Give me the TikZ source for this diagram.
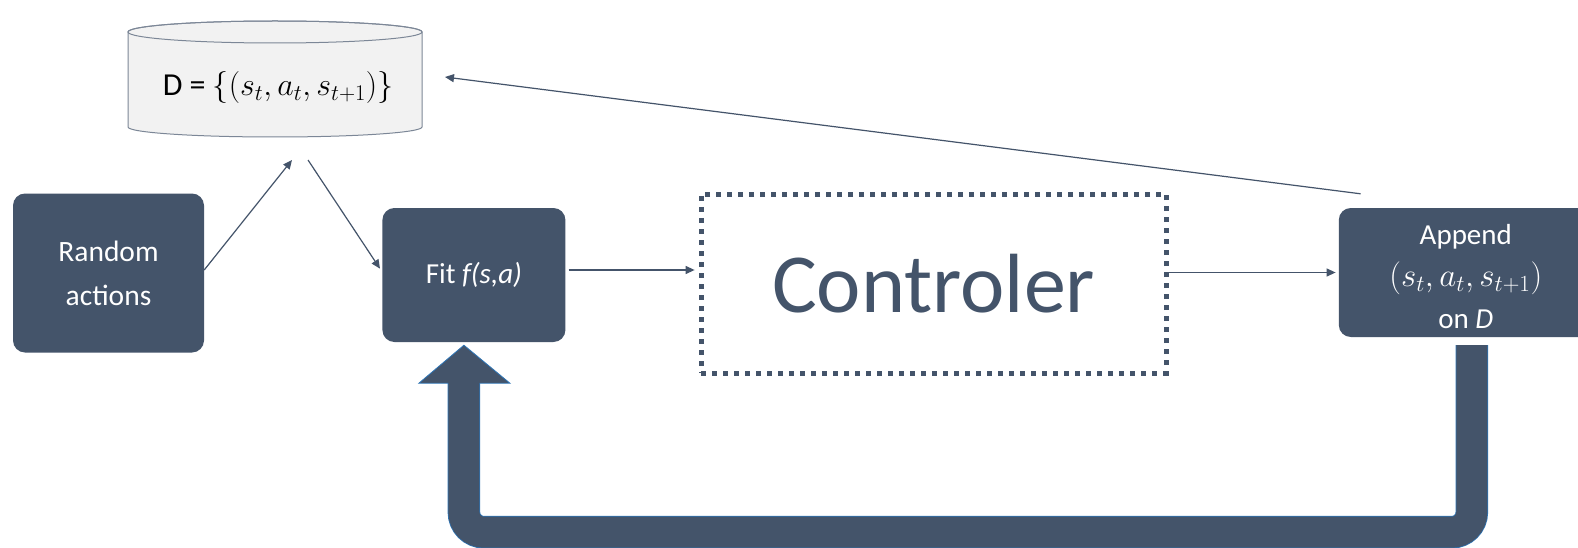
\documentclass[tikz,border=0pt]{standalone}
\usepackage{fix-cm}
\usepackage{fontspec}
\setmainfont{Carlito}
\usetikzlibrary{positioning,arrows.meta}

\definecolor{slate}{HTML}{44546A}
\definecolor{edgeblue}{HTML}{2E75B6}
\definecolor{drum}{HTML}{F2F2F2}

\begin{document}
\begin{tikzpicture}[x=1pt,y=-1pt,
    every node/.style={inner sep=0pt},
    darkbox/.style={fill=slate,rounded corners=12pt,text=white,align=center},
    flow/.style={draw=slate,line width=1.2pt,-{Triangle[length=9pt,width=8pt]}},
    bigloop/.style={draw=slate,line width=31pt,rounded corners=20pt},
    bigedge/.style={draw=edgeblue,line width=32.5pt,rounded corners=20pt}]

\useasboundingbox[fill=white] (0,0) rectangle (1578,548);

% Data set drum
\path[fill=drum,draw=slate!70,line width=1pt]
    (128,32) -- (128,127) arc[start angle=180,end angle=360,x radius=147pt,y radius=10pt]
    -- (422,32) arc[start angle=0,end angle=180,x radius=147pt,y radius=11pt] -- cycle;
\draw[slate!70,line width=1pt] (275,32) ellipse[x radius=147pt,y radius=11pt];
\node[font=\fontsize{32}{32}\selectfont] (data) at (278,88)
    {D = $\{(s_t, a_t, s_{t+1})\}$};
\coordinate (dbin) at (292,160);
\coordinate (dbout) at (308,160);
\coordinate (dbback) at (445,77);

% Boxes
\node[  darkbox,
        minimum width=191pt, minimum height=159pt,
        font=\fontsize{29.5}{44}\selectfont
    ] (random) at (108.5,273) {Random\\actions};
\node[  darkbox,
        minimum width=183pt, minimum height=134pt,
        font=\fontsize{29}{29}\selectfont,
        right=178pt of random, yshift=-2pt
    ] (fit) {Fit \textit{f(s,a)}};
\node[  draw=slate, line width=5pt,
        dash pattern=on 5pt off 6pt,
        minimum width=465pt, minimum height=179pt,
        text=slate, font=\fontsize{84}{84}\selectfont,
        right=133pt of fit, yshift=-8.5pt
    ] (ctrl) {Controler};
\node[  darkbox,
        minimum width=254pt, minimum height=129pt,
        font=\fontsize{29}{42}\selectfont,
        right=170pt of ctrl, yshift=11pt
    ] (append) {};
\node[  text=white, align=center,
        font=\fontsize{29}{42}\selectfont
    ] (appendtext) at ([yshift=-4pt]append.center)
    {Append\\{\fontsize{33}{42}\selectfont$(s_t, a_t, s_{t+1})$}\\on \textit{D}};

% Arrows
\draw[flow] ([yshift=3pt]random.east) -- (dbin);
\draw[flow,shorten >=4pt] (dbout) -- ([yshift=3pt]fit.west);
\draw[flow,shorten >=4pt] ([xshift=3pt,yshift=5pt]fit.east) -- ([yshift=5pt]fit.east -| ctrl.west);
\draw[flow,shorten >=3pt] (ctrl.east |- append.west) -- (append.west);
\draw[flow] ([xshift=22pt,yshift=14pt]append.north west) -- (dbback);

% Feedback loop
\coordinate (loopR) at ([xshift=6pt,yshift=-8pt]append.south);
\coordinate (tip) at ([xshift=-10pt,yshift=-3pt]fit.south);
\coordinate (loopL) at ([yshift=-35pt]tip);
\draw[bigedge] (loopR) -- ++(0,187) -| (loopL);
\draw[fill=slate,draw=edgeblue,line width=0.8pt]
    (tip) -- ++(-45,38) -- ++(91,0) -- cycle;
\draw[bigloop] (loopR) -- ++(0,187) -| (loopL);

\end{tikzpicture}
\end{document}
